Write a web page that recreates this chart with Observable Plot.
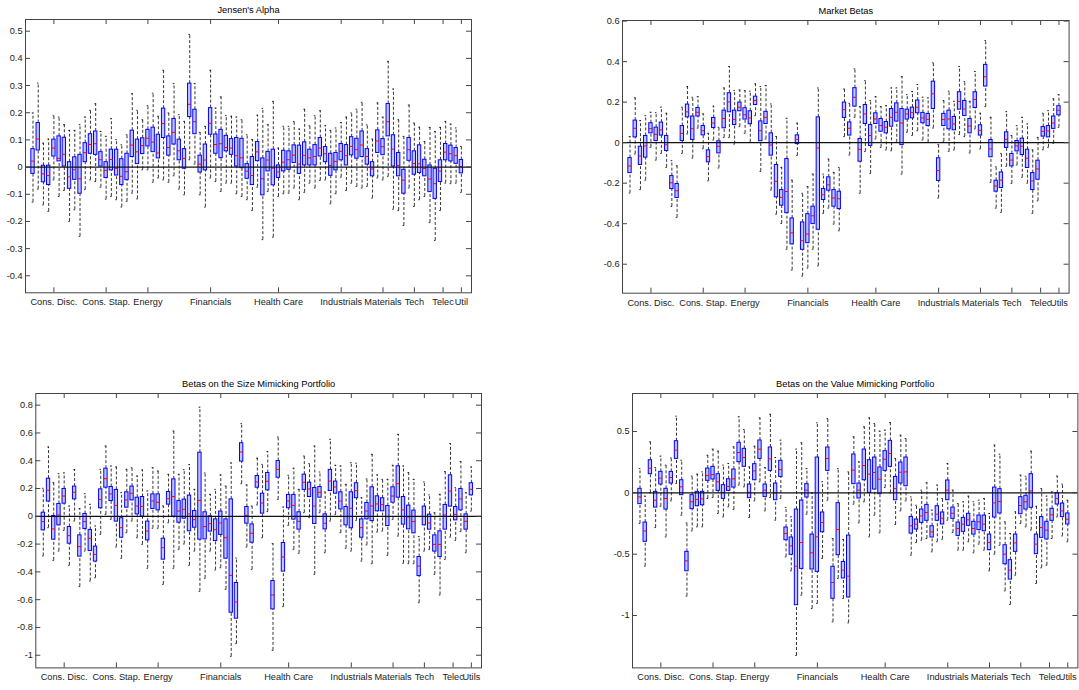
<!DOCTYPE html>
<html><head><meta charset="utf-8">
<script src="https://cdn.jsdelivr.net/npm/d3@7"></script>
<script src="https://cdn.jsdelivr.net/npm/@observablehq/plot@0.6"></script>
<style>
html,body{margin:0;padding:0;background:#fff;}
#wrap{position:relative;width:1079px;height:690px;overflow:hidden;font-family:"Liberation Sans",Arial,Helvetica,sans-serif;}
#wrap svg{position:absolute;}
</style></head><body><div id="wrap"></div>
<script>
// ---- sector axis ----
const sectorTicks = [5, 15, 23, 35, 48, 60, 68, 74, 79.5, 83];
const sectorLabelsAlpha = ["Cons. Disc.", "Cons. Stap.", "Energy", "Financials", "Health Care", "Industrials", "Materials", "Tech", "Telec", "Util"];
const sectorLabels = ["Cons. Disc.", "Cons. Stap.", "Energy", "Financials", "Health Care", "Industrials", "Materials", "Tech", "Telec", "Utils"];

// ---- Jensen's Alpha ----
const alphaHi = [0.199,0.309,0.088,0.103,0.189,0.184,0.156,0.135,0.135,0.156,0.184,0.209,0.233,0.131,0.113,0.178,0.101,0.082,0.119,0.270,0.209,0.174,0.226,0.272,0.187,0.356,0.199,0.307,0.193,0.168,0.488,0.307,0.128,0.150,0.356,0.217,0.258,0.189,0.187,0.184,0.174,0.119,0.101,0.191,0.216,0.156,0.242,0.070,0.150,0.150,0.168,0.140,0.213,0.152,0.189,0.207,0.152,0.135,0.144,0.164,0.184,0.199,0.213,0.238,0.155,0.103,0.236,0.184,0.389,0.287,0.174,0.113,0.228,0.162,0.147,0.094,0.146,0.131,0.146,0.168,0.158,0.144,0.076];
const alphaQ3 = [0.066,0.162,0.005,0.005,0.101,0.113,0.108,0.018,0.036,0.045,0.088,0.121,0.131,0.055,0.018,0.064,0.064,0.029,0.049,0.134,0.101,0.106,0.137,0.145,0.119,0.215,0.113,0.177,0.101,0.066,0.307,0.211,0.042,0.083,0.217,0.120,0.137,0.115,0.103,0.107,0.104,0.011,0.037,0.092,0.032,0.056,0.064,0.006,0.060,0.058,0.080,0.079,0.091,0.064,0.081,0.107,0.074,0.049,0.052,0.085,0.081,0.110,0.104,0.131,0.066,0.018,0.135,0.103,0.232,0.117,0.052,-0.010,0.107,0.058,0.080,0.027,0.006,-0.006,0.025,0.085,0.079,0.070,0.026];
const alphaMed = [0.022,0.103,-0.025,-0.031,0.070,0.032,0.047,-0.036,-0.010,-0.043,0.053,0.083,0.086,0.027,-0.012,0.028,-0.005,-0.034,-0.017,0.081,0.056,0.079,0.106,0.092,0.052,0.160,0.072,0.128,0.060,0.032,0.231,0.167,0.011,0.026,0.161,0.083,0.086,0.072,0.070,0.042,0.034,-0.015,-0.031,0.056,-0.043,0.026,-0.004,-0.018,0.018,0.027,0.044,0.011,0.043,0.034,0.039,0.070,0.049,0.006,0.021,0.058,0.042,0.076,0.064,0.081,0.039,-0.007,0.096,0.075,0.167,0.066,0.006,-0.048,0.064,0.013,0.012,-0.005,-0.044,-0.061,-0.015,0.055,0.049,0.042,0.002];
const alphaQ1 = [-0.025,0.061,-0.056,-0.066,0.039,0.021,0.002,-0.080,-0.047,-0.098,0.018,0.049,0.045,0.002,-0.040,-0.012,-0.031,-0.066,-0.048,0.037,0.011,0.048,0.076,0.055,0.032,0.107,0.042,0.083,0.025,-0.006,0.184,0.121,-0.020,-0.012,0.119,0.049,0.033,0.058,0.045,0.002,-0.004,-0.043,-0.066,0.022,-0.104,-0.016,-0.067,-0.040,-0.016,-0.010,0.015,-0.025,0.006,0.006,0.006,0.039,0.018,-0.032,-0.012,0.025,0.006,0.043,0.031,0.037,0.009,-0.034,0.052,0.044,0.113,0.002,-0.034,-0.098,0.023,-0.028,-0.022,-0.034,-0.092,-0.117,-0.055,0.025,0.021,0.012,-0.023];
const alphaLo = [-0.129,-0.081,-0.139,-0.163,-0.047,-0.108,-0.086,-0.200,-0.157,-0.255,-0.083,-0.047,-0.053,-0.074,-0.118,-0.108,-0.120,-0.147,-0.126,-0.096,-0.117,-0.010,-0.010,-0.056,-0.040,-0.047,-0.056,-0.032,-0.081,-0.102,0.027,0.011,-0.102,-0.147,-0.040,-0.053,-0.090,-0.059,-0.059,-0.098,-0.108,-0.120,-0.160,-0.074,-0.267,-0.090,-0.258,-0.108,-0.098,-0.096,-0.077,-0.120,-0.093,-0.059,-0.077,-0.049,-0.047,-0.135,-0.098,-0.037,-0.086,-0.059,-0.071,-0.077,-0.071,-0.114,-0.040,-0.047,-0.034,-0.155,-0.160,-0.215,-0.077,-0.145,-0.120,-0.108,-0.204,-0.270,-0.160,-0.059,-0.061,-0.059,-0.093];

// ---- Market Betas ----
const betaHi = [0.030,0.221,0.109,0.133,0.150,0.148,0.175,0.145,-0.089,-0.114,0.175,0.277,0.224,0.227,0.142,0.046,0.180,0.076,0.270,0.376,0.257,0.260,0.257,0.254,0.290,0.277,0.282,0.191,0.030,-0.122,0.120,-0.185,0.096,-0.250,-0.217,-0.155,0.270,-0.155,-0.081,-0.147,-0.122,0.265,0.194,0.364,0.178,0.306,0.208,0.227,0.178,0.183,0.270,0.270,0.326,0.237,0.252,0.287,0.224,0.221,0.394,-0.010,0.208,0.254,0.204,0.376,0.301,0.204,0.351,0.145,0.504,0.125,-0.119,-0.053,0.153,0.035,0.084,0.125,0.092,-0.036,0.026,0.145,0.158,0.216,0.237];
const betaQ3 = [-0.076,0.109,-0.020,0.033,0.096,0.074,0.099,0.033,-0.165,-0.204,0.082,0.188,0.129,0.171,0.082,-0.038,0.122,0.007,0.158,0.244,0.158,0.198,0.170,0.155,0.227,0.105,0.152,0.046,-0.110,-0.234,-0.081,-0.374,0.036,-0.394,-0.353,-0.316,0.125,-0.229,-0.171,-0.234,-0.242,0.198,0.100,0.269,0.018,0.186,0.087,0.145,0.117,0.102,0.166,0.194,0.166,0.163,0.173,0.208,0.147,0.142,0.301,-0.077,0.142,0.158,0.127,0.249,0.206,0.117,0.249,0.086,0.384,0.013,-0.188,-0.147,0.051,-0.056,0.008,0.020,-0.035,-0.150,-0.089,0.077,0.082,0.129,0.180];
const betaMed = [-0.115,0.071,-0.066,-0.016,0.069,0.041,0.063,-0.010,-0.198,-0.237,0.046,0.152,0.069,0.150,0.059,-0.069,0.097,-0.018,0.119,0.201,0.115,0.175,0.138,0.122,0.208,0.059,0.125,-0.012,-0.191,-0.270,-0.241,-0.445,0.016,-0.484,-0.451,-0.361,-0.026,-0.257,-0.208,-0.273,-0.277,0.163,0.071,0.224,-0.033,0.142,0.035,0.117,0.084,0.076,0.125,0.150,0.097,0.142,0.148,0.175,0.122,0.115,0.241,-0.138,0.114,0.117,0.092,0.204,0.166,0.082,0.213,0.061,0.325,-0.031,-0.214,-0.185,0.016,-0.086,-0.016,-0.018,-0.077,-0.189,-0.130,0.056,0.058,0.097,0.160];
const betaQ1 = [-0.150,0.026,-0.110,-0.074,0.046,0.008,0.035,-0.041,-0.229,-0.273,0.008,0.125,0.013,0.129,0.036,-0.097,0.072,-0.053,0.071,0.150,0.087,0.155,0.114,0.091,0.186,0.007,0.092,-0.064,-0.270,-0.311,-0.348,-0.502,-0.007,-0.529,-0.496,-0.402,-0.430,-0.283,-0.237,-0.316,-0.328,0.122,0.035,0.178,-0.094,0.092,-0.016,0.092,0.054,0.046,0.079,0.104,-0.012,0.114,0.120,0.145,0.096,0.082,0.166,-0.189,0.082,0.066,0.061,0.163,0.132,0.046,0.171,0.035,0.277,-0.072,-0.242,-0.224,-0.026,-0.117,-0.043,-0.061,-0.125,-0.234,-0.183,0.030,0.026,0.068,0.135];
const betaLo = [-0.249,-0.056,-0.232,-0.185,-0.023,-0.086,-0.053,-0.122,-0.315,-0.369,-0.053,0.043,-0.076,0.072,-0.030,-0.188,0.013,-0.125,0.026,0.026,-0.007,0.079,0.046,0.002,0.133,-0.142,0.018,-0.234,-0.353,-0.399,-0.526,-0.629,-0.064,-0.659,-0.619,-0.526,-0.608,-0.349,-0.323,-0.402,-0.435,0.030,-0.061,0.125,-0.250,-0.044,-0.152,0.018,-0.023,-0.036,-0.040,0.002,-0.155,0.051,0.035,0.059,0.013,0.002,0.072,-0.273,0.007,-0.043,-0.036,0.040,0.030,-0.051,0.068,-0.031,0.178,-0.196,-0.323,-0.344,-0.117,-0.201,-0.110,-0.171,-0.200,-0.349,-0.287,-0.035,-0.023,-0.003,0.076];

// ---- Size mimicking portfolio betas ----
const sizeHi = [0.202,0.499,0.242,0.307,0.312,0.074,0.336,0.055,0.163,0.086,-0.070,0.338,0.506,0.362,0.355,0.170,0.338,0.350,0.290,0.334,0.182,0.350,0.326,0.074,0.302,0.614,0.302,0.336,0.372,0.194,0.785,0.312,0.158,0.194,0.298,0.218,0.384,-0.300,0.667,0.226,0.074,0.418,0.374,0.466,-0.197,0.571,0.067,0.295,0.346,0.194,0.434,0.379,0.506,0.319,0.175,0.554,0.367,0.362,0.230,0.386,0.382,0.134,0.269,0.446,0.298,0.266,0.266,0.367,0.590,0.362,0.314,0.266,-0.146,0.247,0.154,0.026,0.158,0.322,0.523,0.206,0.394,0.170,0.355];
const sizeQ3 = [0.026,0.271,0.002,0.089,0.197,-0.077,0.214,-0.137,0.017,-0.098,-0.218,0.194,0.343,0.211,0.190,-0.014,0.173,0.214,0.134,0.139,-0.038,0.158,0.158,-0.161,0.175,0.266,0.110,0.120,0.149,0.038,0.458,0.029,0.000,-0.022,0.034,-0.022,0.122,-0.480,0.526,0.067,-0.058,0.290,0.163,0.312,-0.466,0.398,-0.192,0.154,0.154,0.029,0.300,0.242,0.204,0.211,0.014,0.334,0.250,0.173,0.067,0.173,0.238,-0.022,0.096,0.209,0.144,0.130,0.074,0.209,0.360,0.139,0.077,0.041,-0.293,0.070,0.012,-0.137,-0.108,0.082,0.295,0.067,0.197,0.014,0.238];
const sizeMed = [-0.038,0.187,-0.091,0.010,0.146,-0.139,0.173,-0.218,-0.038,-0.158,-0.274,0.122,0.271,0.161,0.079,-0.082,0.118,0.166,0.074,0.072,-0.106,0.110,0.101,-0.226,0.127,0.142,0.038,0.050,0.017,-0.024,0.115,-0.074,-0.053,-0.096,-0.048,-0.154,-0.425,-0.617,0.463,0.007,-0.122,0.247,0.096,0.252,-0.566,0.338,-0.293,0.110,0.079,-0.036,0.245,0.197,0.074,0.173,-0.050,0.254,0.211,0.110,-0.002,0.058,0.185,-0.082,0.038,0.074,0.089,0.084,-0.002,0.146,0.235,0.046,-0.005,-0.038,-0.358,-0.002,-0.048,-0.202,-0.202,0.010,0.182,0.014,0.125,-0.036,0.194];
const sizeQ1 = [-0.101,0.106,-0.168,-0.065,0.091,-0.197,0.122,-0.290,-0.091,-0.250,-0.326,0.058,0.206,0.110,-0.038,-0.154,0.062,0.115,0.014,-0.002,-0.173,0.053,0.043,-0.312,0.084,-0.002,-0.046,-0.017,-0.108,-0.082,-0.168,-0.166,-0.110,-0.178,-0.134,-0.305,-0.694,-0.737,0.394,-0.053,-0.190,0.206,0.019,0.187,-0.670,0.278,-0.398,0.058,-0.024,-0.096,0.190,0.139,-0.055,0.134,-0.094,0.182,0.163,0.050,-0.065,-0.086,0.130,-0.154,-0.022,-0.034,0.036,0.036,-0.070,0.098,0.134,-0.060,-0.094,-0.122,-0.430,-0.065,-0.096,-0.254,-0.293,-0.096,0.070,-0.029,0.043,-0.096,0.151];
const sizeLo = [-0.286,-0.082,-0.317,-0.250,-0.101,-0.353,-0.034,-0.506,-0.250,-0.466,-0.442,-0.130,0.014,-0.022,-0.221,-0.302,-0.118,-0.034,-0.154,-0.202,-0.374,-0.086,-0.086,-0.490,-0.046,-0.374,-0.238,-0.199,-0.353,-0.250,-0.540,-0.446,-0.250,-0.386,-0.370,-0.526,-1.008,-0.917,0.235,-0.221,-0.382,0.082,-0.154,0.034,-0.965,0.122,-0.650,-0.065,-0.238,-0.266,0.026,-0.010,-0.418,0.026,-0.262,-0.034,0.014,-0.118,-0.230,-0.250,-0.029,-0.322,-0.206,-0.341,-0.113,-0.106,-0.281,-0.022,-0.142,-0.338,-0.341,-0.341,-0.622,-0.250,-0.238,-0.418,-0.566,-0.310,-0.149,-0.173,-0.110,-0.262,0.038];

// ---- Value mimicking portfolio betas ----
const valueHi = [0.198,-0.027,0.416,0.207,0.299,0.226,0.285,0.625,0.266,-0.245,0.136,0.152,0.171,0.307,0.356,0.340,0.226,0.239,0.375,0.620,0.516,0.212,0.380,0.611,0.206,0.641,0.288,0.429,-0.120,-0.196,0.356,0.408,0.198,0.000,0.571,0.090,0.606,-0.372,0.198,-0.380,0.171,0.457,0.253,0.538,0.611,0.565,0.503,0.511,0.573,0.280,0.470,0.443,-0.033,-0.101,0.022,0.082,-0.141,0.063,-0.046,0.239,0.022,-0.087,-0.073,-0.027,-0.073,-0.060,-0.046,-0.168,0.389,0.315,-0.236,-0.332,-0.155,0.144,0.136,0.340,-0.109,0.035,-0.027,0.008,0.136,0.071,-0.060];
const valueQ3 = [0.033,-0.242,0.266,0.008,0.171,0.033,0.171,0.421,0.103,-0.481,-0.019,0.008,0.008,0.198,0.212,0.152,0.063,0.111,0.190,0.408,0.359,0.068,0.234,0.427,0.068,0.370,0.076,0.261,-0.283,-0.364,-0.136,-0.063,0.071,-0.340,0.288,-0.160,0.370,-0.603,-0.084,-0.563,-0.348,0.313,0.076,0.353,0.266,0.288,0.207,0.340,0.424,0.130,0.247,0.288,-0.196,-0.217,-0.136,-0.098,-0.272,-0.109,-0.160,0.101,-0.120,-0.242,-0.204,-0.171,-0.236,-0.185,-0.185,-0.340,0.043,0.030,-0.427,-0.549,-0.340,-0.035,-0.024,0.152,-0.340,-0.198,-0.236,-0.130,-0.003,-0.087,-0.168];
const valueMed = [-0.033,-0.310,0.201,-0.060,0.120,-0.046,0.125,0.348,0.049,-0.554,-0.073,-0.054,-0.049,0.141,0.149,0.090,0.003,0.052,0.114,0.329,0.288,0.005,0.179,0.356,0.022,0.277,0.000,0.190,-0.332,-0.432,-0.598,-0.405,0.022,-0.489,-0.359,-0.242,0.280,-0.731,-0.299,-0.630,-0.679,0.185,0.022,0.223,0.152,0.166,0.111,0.274,0.321,0.035,0.168,0.171,-0.269,-0.255,-0.188,-0.160,-0.318,-0.174,-0.207,0.022,-0.166,-0.291,-0.255,-0.220,-0.291,-0.236,-0.255,-0.405,-0.082,-0.071,-0.500,-0.630,-0.408,-0.103,-0.073,0.016,-0.418,-0.283,-0.304,-0.179,-0.046,-0.147,-0.215];
const valueQ1 = [-0.092,-0.399,0.152,-0.120,0.068,-0.136,0.076,0.277,-0.019,-0.639,-0.133,-0.109,-0.101,0.098,0.109,0.016,-0.049,0.016,0.043,0.250,0.212,-0.043,0.103,0.277,-0.033,0.179,-0.060,0.130,-0.386,-0.505,-0.916,-0.620,-0.038,-0.625,-0.644,-0.321,0.179,-0.864,-0.508,-0.698,-0.853,0.071,-0.046,0.103,0.000,0.027,-0.011,0.179,0.212,-0.060,0.076,0.054,-0.332,-0.299,-0.245,-0.228,-0.364,-0.228,-0.258,-0.060,-0.212,-0.351,-0.318,-0.269,-0.340,-0.304,-0.313,-0.467,-0.201,-0.168,-0.582,-0.707,-0.481,-0.174,-0.136,-0.122,-0.500,-0.367,-0.380,-0.228,-0.095,-0.198,-0.258];
const valueLo = [-0.250,-0.598,0.000,-0.283,-0.109,-0.359,-0.065,0.076,-0.182,-0.842,-0.310,-0.277,-0.277,-0.046,-0.038,-0.168,-0.196,-0.114,-0.136,0.063,0.049,-0.201,-0.065,0.090,-0.147,-0.038,-0.223,-0.046,-0.522,-0.636,-1.326,-0.834,-0.174,-0.943,-0.902,-0.535,-0.060,-1.052,-0.698,-0.861,-1.060,-0.092,-0.245,-0.073,-0.359,-0.182,-0.326,0.043,0.000,-0.258,-0.147,-0.065,-0.508,-0.405,-0.386,-0.372,-0.481,-0.399,-0.378,-0.223,-0.323,-0.467,-0.467,-0.399,-0.489,-0.418,-0.467,-0.636,-0.500,-0.427,-0.799,-0.910,-0.671,-0.250,-0.277,-0.304,-0.739,-0.611,-0.590,-0.372,-0.196,-0.351,-0.399];

// ---- y tick values ----
const alphaTicks = [-0.4,-0.3,-0.2,-0.1,0,0.1,0.2,0.3,0.4,0.5];
const betaTicks = [-0.6,-0.4,-0.2,0,0.2,0.4,0.6];
const sizeTicks = [-1,-0.8,-0.6,-0.4,-0.2,0,0.2,0.4,0.6,0.8];
const valueTicks = [-1,-0.5,0,0.5];

const panels = [
  {title: "Jensen's Alpha", lo: alphaLo, q1: alphaQ1, med: alphaMed, q3: alphaQ3, hi: alphaHi,
   yDomain: [-0.4625, 0.543], yTicks: alphaTicks, labels: sectorLabelsAlpha,
   frame: {left: 25, top: 19, width: 446, height: 273.3}},
  {title: "Market Betas", lo: betaLo, q1: betaQ1, med: betaMed, q3: betaQ3, hi: betaHi,
   yDomain: [-0.743, 0.603], yTicks: betaTicks, labels: sectorLabels,
   frame: {left: 621.7, top: 20, width: 446.6, height: 272.7}},
  {title: "Betas on the Size Mimicking Portfolio", lo: sizeLo, q1: sizeQ1, med: sizeMed, q3: sizeQ3, hi: sizeHi,
   yDomain: [-1.091, 0.884], yTicks: sizeTicks, labels: sectorLabels,
   frame: {left: 35.3, top: 393.3, width: 445.7, height: 274.4}},
  {title: "Betas on the Value Mimicking Portfolio", lo: valueLo, q1: valueQ1, med: valueMed, q3: valueQ3, hi: valueHi,
   yDomain: [-1.427, 0.81], yTicks: valueTicks, labels: sectorLabels,
   frame: {left: 632.3, top: 393.3, width: 445.4, height: 274.4}}
];

const fmt = d => String(+d.toFixed(2));
const wrap = document.getElementById("wrap");
const TICK = 5, HALF = 0.32, CAP = 0.15;

for (const p of panels) {
  const f = p.frame;
  const svgLeft = Math.max(0, f.left - 40);
  const mL = f.left - svgLeft;
  const mR = Math.min(6, 1079 - (f.left + f.width));
  const mT = 22, mB = 30;
  const rows = p.med.map((m, k) => ({i: k + 1, lo: p.lo[k], q1: p.q1[k], med: m, q3: p.q3[k], hi: p.hi[k]}));
  const labelMap = new Map(sectorTicks.map((t, k) => [t, p.labels[k]]));
  const chart = Plot.plot({
    width: mL + f.width + mR,
    height: mT + f.height + mB,
    marginLeft: mL, marginRight: mR, marginTop: mT, marginBottom: mB,
    style: {fontFamily: '"Liberation Sans", Arial, Helvetica, sans-serif', fontSize: "9.2px", color: "#1a1a1a", background: "transparent", overflow: "visible"},
    x: {domain: [-0.436, 84.94], axis: null},
    y: {domain: p.yDomain, axis: null},
    marks: [
      // whiskers
      Plot.ruleX(rows, {x: "i", y1: "q3", y2: "hi", stroke: "#000", strokeWidth: 0.8, strokeDasharray: "3,2"}),
      Plot.ruleX(rows, {x: "i", y1: "lo", y2: "q1", stroke: "#000", strokeWidth: 0.8, strokeDasharray: "3,2"}),
      Plot.ruleY(rows, {y: "hi", x1: d => d.i - CAP, x2: d => d.i + CAP, stroke: "#000", strokeWidth: 0.8}),
      Plot.ruleY(rows, {y: "lo", x1: d => d.i - CAP, x2: d => d.i + CAP, stroke: "#000", strokeWidth: 0.8}),
      // boxes
      Plot.rect(rows, {x1: d => d.i - HALF, x2: d => d.i + HALF, y1: "q1", y2: "q3", fill: "#c4c4ff", stroke: "#0000ff", strokeWidth: 1}),
      Plot.ruleY(rows, {y: "med", x1: d => d.i - HALF, x2: d => d.i + HALF, stroke: "#ff0000", strokeWidth: 1}),
      // zero line
      Plot.ruleY([0], {stroke: "#111", strokeWidth: 1.3}),
      // frame and inward ticks
      Plot.frame({stroke: "#444", strokeWidth: 1}),
      Plot.tickY(p.yTicks, {y: d => d, insetRight: f.width - TICK, stroke: "#444"}),
      Plot.tickY(p.yTicks, {y: d => d, insetLeft: f.width - TICK, stroke: "#444"}),
      Plot.tickX(sectorTicks, {x: d => d, insetTop: f.height - TICK, stroke: "#444"}),
      Plot.tickX(sectorTicks, {x: d => d, insetBottom: f.height - TICK, stroke: "#444"}),
      // axis labels
      Plot.axisY({ticks: p.yTicks, tickSize: 0, tickPadding: 3, tickFormat: fmt, label: null}),
      Plot.axisX({ticks: sectorTicks, tickSize: 0, tickPadding: 6, tickFormat: d => labelMap.get(d), label: null}),
      // title
      Plot.text([p.title], {text: d => d, frameAnchor: "top", dy: -9, lineAnchor: "middle", fill: "#000", fontSize: 9.3})
    ]
  });
  chart.style.left = svgLeft + "px";
  chart.style.top = (f.top - mT) + "px";
  wrap.appendChild(chart);
}
</script>
</body></html>
